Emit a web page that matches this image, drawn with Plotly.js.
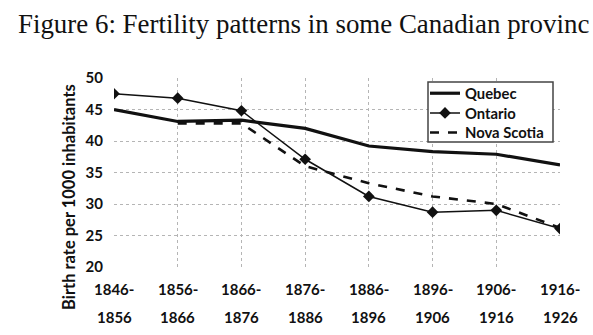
<!DOCTYPE html>
<html><head><meta charset="utf-8">
<script src="https://cdn.plot.ly/plotly-3.0.1.min.js"></script>
<style>html,body{margin:0;padding:0;background:#fff}#chart{width:593px;height:335px}</style>
</head><body><div id="chart"></div>
<script>
const periodStart = ["1846-","1856-","1866-","1876-","1886-","1896-","1906-","1916-"];
const periodEnd   = ["1856","1866","1876","1886","1896","1906","1916","1926"];
const quebec     = [45.0, 43.1, 43.3, 42.0, 39.2, 38.3, 37.9, 36.2];
const ontario    = [47.5, 46.8, 44.8, 37.1, 31.2, 28.7, 29.0, 26.1];
const novaScotia = [null, 42.8, 42.8, 36.0, 33.3, 31.2, 30.0, 26.2];
const yTicks = [20,25,30,35,40,45,50];

const idx = periodStart.map((_, i) => i);
const lab = "Lato, 'Open Sans', sans-serif";
const L = 114, R = 33, T = 78, B = 68, W = 593, H = 335;
const pw = W - L - R, ph = H - T - B;
const px = v => (v - L) / pw;          // pixel x -> paper
const py = v => (H - B - v) / ph;      // pixel y -> paper

const traces = [
  {x: idx, y: quebec, name: "Quebec", mode: "lines", line: {color: "#111", width: 3.2}, legend: "legend"},
  {x: idx, y: ontario, name: "Ontario", mode: "lines+markers", line: {color: "#111", width: 1.5},
   marker: {symbol: "diamond", size: 9, color: "#111"}, legend: "legend2"},
  {x: idx, y: novaScotia, name: "Nova Scotia", mode: "lines", line: {color: "#111", width: 2.6, dash: "dash"},
   legend: "legend3"}
];

const annotations = [];
idx.forEach(i => {
  annotations.push({x: i, y: 0, xref: "x", yref: "paper", yshift: -22, text: periodStart[i], showarrow: false,
    font: {family: lab, size: 15, color: "#111", weight: "bold"}, xanchor: "center", yanchor: "middle"});
  annotations.push({x: i, y: 0, xref: "x", yref: "paper", yshift: -50, text: periodEnd[i], showarrow: false,
    font: {family: lab, size: 15, color: "#111", weight: "bold"}, xanchor: "center", yanchor: "middle"});
});
annotations.push({x: px(69), y: py(197), xref: "paper", yref: "paper",
  text: "Birth rate per 1000 inhabitants", showarrow: false, textangle: -90,
  font: {family: lab, size: 16.5, color: "#111", weight: "bold"}, xanchor: "center", yanchor: "middle"});

const legFont = {family: lab, size: 14.8, color: "#111", weight: "bold"};
const legBase = {xanchor: "left", yanchor: "top", bgcolor: "rgba(0,0,0,0)", borderwidth: 0,
  font: legFont, itemwidth: 30, x: px(425)};

const layout = {
  width: W, height: H,
  margin: {l: L, r: R, t: T, b: B, pad: 0},
  paper_bgcolor: "#fff", plot_bgcolor: "#fff",
  title: {text: "Figure 6: Fertility patterns in some Canadian provinc", xref: "container", yref: "container",
    x: 18 / W, xanchor: "left", y: 1 - 24 / H, yanchor: "middle",
    font: {family: "'Liberation Serif', serif", size: 26.9, color: "#111"}},
  xaxis: {range: [0, 7], tickvals: idx, showticklabels: false, showgrid: true, gridcolor: "#b5b5b5",
    griddash: "dot", gridwidth: 1, zeroline: false, showline: false, ticks: ""},
  yaxis: {range: [20, 50], tickvals: yTicks, showgrid: true, gridcolor: "#b5b5b5", griddash: "dot",
    gridwidth: 1, zeroline: false, showline: false, ticks: "", ticklabelstandoff: 10,
    tickfont: {family: lab, size: 15, color: "#111", weight: "bold"}},
  showlegend: true,
  legend: Object.assign({}, legBase, {y: py(77.1)}),
  legend2: Object.assign({}, legBase, {y: py(96.8)}),
  legend3: Object.assign({}, legBase, {y: py(116.4)}),
  shapes: [{type: "rect", xref: "paper", yref: "paper", x0: px(428), x1: px(553), y0: py(142), y1: py(82),
    line: {color: "#444", width: 1.5}, fillcolor: "#fff", layer: "above"}],
  annotations: annotations
};

Plotly.newPlot("chart", traces, layout, {displayModeBar: false, staticPlot: true});
</script></body></html>
